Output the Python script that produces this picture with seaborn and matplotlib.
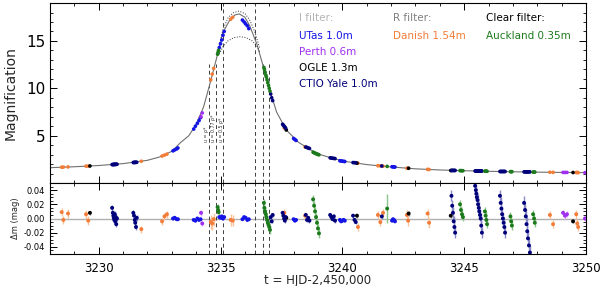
import matplotlib
matplotlib.use("Agg")
import matplotlib.pyplot as plt
from matplotlib.ticker import MultipleLocator, FixedLocator, FormatStrFormatter
import pandas as pd
import seaborn as sns

# model light curve
model_t = [3228.0, 3229.0, 3230.0, 3231.0, 3232.0, 3232.5, 3233.0, 3233.35, 3233.7, 3234.0,
           3234.3, 3234.6, 3234.9, 3235.1, 3235.4, 3235.6, 3235.77, 3236.0, 3236.2, 3236.5,
           3236.8, 3237.0, 3237.3, 3237.7, 3238.2, 3238.7, 3239.1, 3239.6, 3240.2, 3241.0,
           3241.5, 3242.0, 3243.0, 3244.0, 3245.0, 3246.0, 3247.0, 3248.0, 3249.0, 3250.0]
model_A = [1.62, 1.72, 1.85, 2.05, 2.4, 2.75, 3.35, 4.25, 5.0, 6.2,
           8.0, 10.8, 13.8, 15.9, 17.3, 17.75, 17.85, 17.5, 16.6, 14.6,
           11.9, 10.0, 7.5, 5.6, 4.3, 3.5, 3.0, 2.6, 2.25, 1.95,
           1.82, 1.7, 1.5, 1.38, 1.3, 1.24, 1.19, 1.15, 1.12, 1.1]

# dotted alternative models near the peak
upper_t = [3234.9, 3235.1, 3235.3, 3235.5, 3235.75, 3236.0, 3236.2, 3236.4, 3236.6]
upper_A = [14.0, 16.2, 17.4, 17.95, 18.15, 17.9, 17.2, 16.0, 14.3]
lower_t = [3234.95, 3235.1, 3235.3, 3235.55, 3235.8, 3236.05, 3236.3, 3236.5, 3236.62]
lower_A = [13.6, 14.4, 15.0, 15.35, 15.45, 15.35, 15.0, 14.4, 13.8]

# vertical marker lines (u values) and their labels
marker_t = [3234.53, 3234.82, 3235.12, 3236.42, 3236.73, 3237.0]
marker_top = [12.6, 12.6, 19.0, 19.0, 12.6, 12.6]
u_labels = ["u = ρ*", "u = 0.77 ρ*", "u = 0.5 ρ*"]

# Danish 1.54m (R)
danish_t = [3228.48, 3228.55, 3228.74, 3229.48, 3229.57, 3231.75, 3232.6, 3232.7, 3232.8, 3234.6,
            3234.66, 3234.72, 3235.42, 3235.5, 3237.62, 3238.47, 3240.64, 3241.46, 3241.56, 3241.67,
            3242.65, 3242.7, 3243.5, 3243.56, 3248.52, 3248.65, 3249.6, 3249.64, 3249.68]
danish_A = [1.67, 1.68, 1.7, 1.78, 1.79, 2.3, 2.85, 2.95, 3.05, 10.9,
            11.5, 12.1, 17.3, 17.5, 5.8, 3.8, 2.1, 1.83, 1.81, 1.78,
            1.57, 1.56, 1.44, 1.43, 1.14, 1.13, 1.11, 1.11, 1.1]
danish_dm = [0.009, -0.002, 0.007, 0.006, -0.003, -0.015, -0.004, 0.003, 0.006, -0.005,
             -0.007, -0.001, -0.002, -0.003, 0.008, 0.004, -0.012, 0.005, -0.005, 0.008,
             0.005, -0.003, 0.007, -0.006, 0.005, -0.008, 0.006, -0.007, -0.012]
danish_err = [0.006, 0.006, 0.006, 0.006, 0.006, 0.005, 0.005, 0.005, 0.005, 0.01,
              0.009, 0.009, 0.008, 0.008, 0.005, 0.005, 0.005, 0.006, 0.006, 0.006,
              0.007, 0.007, 0.007, 0.007, 0.006, 0.006, 0.006, 0.006, 0.006]

# UTas 1.0m (I)
utas_t = [3233.05, 3233.12, 3233.2, 3233.25, 3233.9, 3233.97, 3234.05, 3234.12, 3234.18, 3234.95,
          3235.0, 3235.05, 3235.1, 3235.15, 3235.9, 3235.97, 3236.03, 3236.1, 3236.16, 3238.0,
          3238.05, 3238.1, 3239.9, 3239.95, 3240.0, 3240.05, 3240.1, 3242.04, 3242.08, 3242.12,
          3242.16]
utas_A = [3.4, 3.5, 3.6, 3.7, 5.7, 6.0, 6.3, 6.6, 6.9, 14.3,
          14.7, 15.1, 15.6, 16.0, 17.2, 17.0, 16.8, 16.6, 16.3, 4.7,
          4.6, 4.5, 2.35, 2.33, 2.31, 2.29, 2.27, 1.72, 1.71, 1.7,
          1.69]
utas_dm = [0.0, 0.001, -0.001, -0.001, -0.002, -0.003, 0.0, -0.002, -0.001, 0.002,
           0.001, 0.003, 0.0, 0.002, -0.001, 0.002, 0.001, -0.002, -0.001, -0.001,
           -0.003, -0.002, -0.002, -0.004, -0.003, -0.002, -0.003, -0.003, -0.001, -0.002,
           -0.004]
utas_err = 0.0015

# Perth 0.6m (I)
perth_t = [3234.2, 3234.25, 3249.06, 3249.14, 3249.22, 3249.96]
perth_A = [7.0, 7.4, 1.12, 1.12, 1.12, 1.1]
perth_dm = [0.008, -0.007, 0.008, 0.004, 0.006, 0.0]
perth_err = 0.004

# OGLE 1.3m (I)
ogle_t = [3229.64, 3237.7, 3240.6, 3242.72, 3244.45, 3249.47]
ogle_A = [1.8, 5.6, 2.1, 1.56, 1.32, 1.11]
ogle_dm = [0.008, 0.001, 0.004, 0.007, 0.004, -0.004]
ogle_err = 0.003

# CTIO Yale 1.0m (I)
ctio_t = [3230.55, 3230.58, 3230.6, 3230.62, 3230.64, 3230.66, 3230.68, 3230.7, 3230.72, 3230.75,
          3231.42, 3231.45, 3231.48, 3231.5, 3231.53, 3231.56,
          3237.06, 3237.1, 3237.14,
          3237.55, 3237.58, 3237.61, 3237.64, 3237.67,
          3238.5, 3238.55, 3238.6, 3238.65,
          3239.5, 3239.55, 3239.6, 3239.65, 3239.7,
          3240.44, 3240.5, 3240.55,
          3241.62,
          3244.48, 3244.51, 3244.54, 3244.57, 3244.6, 3244.63,
          3245.45, 3245.48, 3245.5, 3245.52, 3245.55, 3245.57, 3245.6, 3245.62, 3245.65, 3245.68, 3245.7, 3245.73,
          3246.47, 3246.5, 3246.53, 3246.56, 3246.59, 3246.62, 3246.65, 3246.68,
          3247.46, 3247.5, 3247.53, 3247.56, 3247.59, 3247.62, 3247.66, 3247.7]
ctio_A = [1.95, 1.95, 1.96, 1.96, 1.96, 1.97, 1.97, 1.97, 1.98, 1.98,
          2.17, 2.17, 2.18, 2.18, 2.19, 2.19,
          9.4, 9.0, 8.7,
          6.2, 6.1, 6.0, 5.9, 5.8,
          3.8, 3.75, 3.7, 3.65,
          2.66, 2.64, 2.62, 2.6, 2.58,
          2.16, 2.15, 2.14,
          1.8,
          1.33, 1.33, 1.33, 1.33, 1.33, 1.33,
          1.27, 1.27, 1.27, 1.27, 1.27, 1.27, 1.27, 1.27, 1.27, 1.27, 1.27, 1.27,
          1.22, 1.22, 1.22, 1.22, 1.22, 1.22, 1.22, 1.22,
          1.18, 1.18, 1.18, 1.18, 1.18, 1.18, 1.18, 1.18]
ctio_dm = [0.015, 0.008, 0.004, 0.001, -0.002, 0.006, -0.004, 0.002, -0.008, 0.0,
           0.008, 0.004, -0.002, -0.006, -0.012, 0.001,
           0.002, -0.004, 0.005,
           0.008, 0.004, 0.0, -0.003, 0.002,
           0.005, -0.002, 0.001, -0.003,
           0.005, 0.002, -0.001, 0.003, -0.003,
           0.004, -0.002, -0.005,
           0.003,
           0.032, 0.018, 0.008, -0.004, -0.012, -0.02,
           0.046, 0.04, 0.035, 0.03, 0.026, 0.02, 0.015, 0.01, 0.005, 0.0, -0.01, -0.02,
           0.032, 0.022, 0.014, 0.006, 0.0, -0.006, -0.012, -0.02,
           0.022, 0.012, 0.003, -0.008, -0.018, -0.028, -0.038, -0.048]
ctio_err = ([0.004] * 16 + [0.003] * 21 + [0.008] * 26 + [0.01] * 8)

# Auckland 0.35m (clear)
auck_t = [3234.88, 3234.9, 3234.92,
          3236.78, 3236.8, 3236.83, 3236.86, 3236.88, 3236.91, 3236.94, 3236.97, 3237.0, 3237.03,
          3238.8, 3238.84, 3238.88, 3238.92, 3238.96, 3239.0, 3239.04,
          3241.84,
          3244.83, 3244.87, 3244.91, 3244.95,
          3245.85, 3245.88, 3245.91, 3245.94,
          3246.9, 3246.93, 3246.96,
          3247.83, 3247.87, 3247.9]
auck_A = [13.6, 13.8, 14.0,
          12.2, 12.0, 11.7, 11.4, 11.2, 10.9, 10.6, 10.3, 10.0, 9.7,
          3.25, 3.2, 3.15, 3.1, 3.06, 3.02, 2.98,
          1.76,
          1.31, 1.31, 1.3, 1.3,
          1.25, 1.25, 1.25, 1.24,
          1.2, 1.2, 1.2,
          1.16, 1.16, 1.16]
auck_dm = [0.016, 0.012, 0.009,
           0.022, 0.015, 0.01, 0.006, 0.002, -0.002, -0.006, -0.009, -0.012, -0.016,
           0.027, 0.018, 0.01, 0.002, -0.006, -0.014, -0.021,
           0.014,
           0.02, 0.012, 0.006, 0.002,
           0.01, 0.004, -0.002, -0.008,
           0.003, -0.004, -0.01,
           0.006, 0.0, -0.006]
auck_err = ([0.005] * 3 + [0.006] * 17 + [0.02] + [0.006] * 14)

sites = ["Danish", "UTas", "Perth", "OGLE", "CTIO", "Auckland"]
site_colors = {"Danish": "#f27c38", "UTas": "#1414e6", "Perth": "#a030f0",
               "OGLE": "black", "CTIO": "#00007a", "Auckland": "#1c7a1c"}
err_colors = {"Danish": "#f8c29a", "UTas": "#9a9af2", "Perth": "#d8a6f6",
              "OGLE": "#909090", "CTIO": "#8a8ac4", "Auckland": "#8cc48c"}

frames = []
for name, t, A, dm, err in [("Danish", danish_t, danish_A, danish_dm, danish_err),
                            ("UTas", utas_t, utas_A, utas_dm, utas_err),
                            ("Perth", perth_t, perth_A, perth_dm, perth_err),
                            ("OGLE", ogle_t, ogle_A, ogle_dm, ogle_err),
                            ("CTIO", ctio_t, ctio_A, ctio_dm, ctio_err),
                            ("Auckland", auck_t, auck_A, auck_dm, auck_err)]:
    frames.append(pd.DataFrame({"site": name, "t": t, "A": A, "dm": dm, "err": err}))
obs = pd.concat(frames, ignore_index=True)

sns.set_style("ticks")
plt.rcParams["font.family"] = ["DejaVu Sans"]

fig = plt.figure(figsize=(6, 2.86), dpi=100)
ax1 = fig.add_axes([0.0833, 0.360, 0.8933, 0.6294])
ax2 = fig.add_axes([0.0833, 0.112, 0.8933, 0.248])

# top panel
for t, top in zip(marker_t, marker_top):
    ax1.plot([t, t], [0, top], color="#404040", lw=0.7, ls=(0, (4, 3)), zorder=1)
sns.lineplot(x=model_t, y=model_A, ax=ax1, color="#707070", lw=0.8, sort=False,
             estimator=None, zorder=2)
sns.lineplot(x=upper_t, y=upper_A, ax=ax1, color="#303030", lw=0.7, ls=":", sort=False,
             estimator=None, zorder=2)
sns.lineplot(x=lower_t, y=lower_A, ax=ax1, color="#303030", lw=0.7, ls=":", sort=False,
             estimator=None, zorder=2)
sns.scatterplot(data=obs, x="t", y="A", hue="site", palette=site_colors, s=7,
                linewidth=0, legend=False, ax=ax1, zorder=3)
for t, lab in zip(marker_t[:3], u_labels):
    ax1.text(t - 0.1, 4.3, lab, rotation=90, fontsize=3.4, ha="center", va="bottom",
             color="#303030")

ax1.set_xlim(3228, 3250)
ax1.set_ylim(0, 19)
ax1.yaxis.set_major_locator(FixedLocator([5, 10, 15]))
ax1.yaxis.set_minor_locator(MultipleLocator(1))
ax1.xaxis.set_major_locator(MultipleLocator(5))
ax1.xaxis.set_minor_locator(MultipleLocator(1))
ax1.tick_params(which="both", direction="in", top=True, right=True, labelbottom=False,
                labelsize=11, colors="black")
ax1.tick_params(which="major", length=5, width=0.7)
ax1.tick_params(which="minor", length=2.5, width=0.6)
ax1.set_xlabel("")
ax1.set_ylabel("Magnification", fontsize=10, labelpad=6)

# legend text
ax1.text(0.465, 0.917, "I filter:", transform=ax1.transAxes, color="#b4b4b4", fontsize=7.5, va="center")
ax1.text(0.465, 0.817, "UTas 1.0m", transform=ax1.transAxes, color=site_colors["UTas"], fontsize=7.5, va="center")
ax1.text(0.465, 0.728, "Perth 0.6m", transform=ax1.transAxes, color=site_colors["Perth"], fontsize=7.5, va="center")
ax1.text(0.465, 0.639, "OGLE 1.3m", transform=ax1.transAxes, color="black", fontsize=7.5, va="center")
ax1.text(0.465, 0.552, "CTIO Yale 1.0m", transform=ax1.transAxes, color=site_colors["CTIO"], fontsize=7.5, va="center")
ax1.text(0.64, 0.917, "R filter:", transform=ax1.transAxes, color="#808080", fontsize=7.5, va="center")
ax1.text(0.64, 0.817, "Danish 1.54m", transform=ax1.transAxes, color=site_colors["Danish"], fontsize=7.5, va="center")
ax1.text(0.813, 0.917, "Clear filter:", transform=ax1.transAxes, color="black", fontsize=7.5, va="center")
ax1.text(0.813, 0.817, "Auckland 0.35m", transform=ax1.transAxes, color=site_colors["Auckland"], fontsize=7.5, va="center")

# bottom panel (residuals)
ax2.axhline(0, color="#b0b0b0", lw=1.0, zorder=1)
for t in marker_t:
    ax2.axvline(t, color="#404040", lw=0.7, ls=(0, (4, 3)), zorder=1)
for name in sites:
    d = obs[obs["site"] == name]
    ax2.errorbar(d["t"], d["dm"], yerr=d["err"], fmt="none", ecolor=err_colors[name],
                 elinewidth=1.0, zorder=2)
sns.scatterplot(data=obs, x="t", y="dm", hue="site", palette=site_colors, s=8,
                linewidth=0, legend=False, ax=ax2, zorder=3)

ax2.set_xlim(3228, 3250)
ax2.set_ylim(-0.05, 0.05)
ax2.yaxis.set_major_locator(MultipleLocator(0.02))
ax2.yaxis.set_minor_locator(MultipleLocator(0.005))
ax2.yaxis.set_major_formatter(FormatStrFormatter("%.2f"))
ax2.xaxis.set_major_locator(MultipleLocator(5))
ax2.xaxis.set_minor_locator(MultipleLocator(1))
ax2.tick_params(which="both", direction="in", top=True, right=True, colors="black")
ax2.tick_params(axis="y", labelsize=6)
ax2.tick_params(axis="x", labelsize=8.5, pad=6)
ax2.tick_params(which="major", length=5, width=0.7)
ax2.tick_params(which="minor", length=2.5, width=0.6)
ax2.set_ylabel("Δm (mag)", fontsize=6, labelpad=3)
ax2.set_xlabel("t = HJD-2,450,000", fontsize=8.5, labelpad=-1)

for ax in (ax1, ax2):
    for sp in ax.spines.values():
        sp.set_color("black")
        sp.set_linewidth(0.8)

fig.savefig("out.png", dpi=100)
